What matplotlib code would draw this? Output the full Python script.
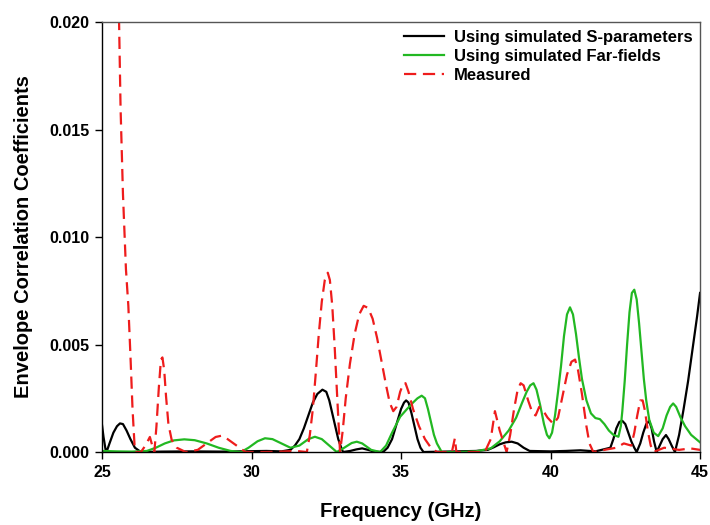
import matplotlib
matplotlib.use("Agg")
import matplotlib.pyplot as plt
from matplotlib.ticker import FormatStrFormatter

plt.rcParams['font.family'] = ['Liberation Sans', 'DejaVu Sans']
plt.rcParams['font.weight'] = 'bold'

# Using simulated S-parameters (black)
freq_s = [25.0, 25.05, 25.12, 25.15, 25.25, 25.38, 25.5, 25.6, 25.7, 25.82, 25.95, 26.1, 26.3,
          27.0, 28.0, 29.0, 30.0, 30.5, 31.0, 31.3, 31.45, 31.6, 31.75, 31.9, 32.05, 32.2,
          32.37, 32.5, 32.6, 32.7, 32.8, 32.9, 33.0, 33.06, 33.3, 33.5, 33.7, 33.9, 34.1,
          34.4, 34.55, 34.7, 34.85, 35.0, 35.1, 35.17, 35.25, 35.35, 35.45, 35.55, 35.65, 35.75,
          36.5, 37.5, 37.9, 38.1, 38.3, 38.5, 38.7, 38.9, 39.1, 39.3, 40.0, 40.5, 41.0, 41.5,
          42.0, 42.1, 42.2, 42.3, 42.4, 42.5, 42.6, 42.7, 42.8, 42.88, 43.0, 43.1, 43.2, 43.3,
          43.38, 43.46, 43.55, 43.65, 43.75, 43.86, 43.95, 44.05, 44.16, 44.3, 44.45, 44.6,
          44.75, 44.9, 45.0]
ecc_s = [0.00125, 0.0007, 0.0001, 0.0, 0.0004, 0.0009, 0.0012, 0.00133, 0.0013, 0.0010, 0.0006, 0.0002, 0.0,
         0.00002, 0.00003, 0.00002, 0.00004, 0.00005, 0.00003, 0.0001, 0.0003, 0.0006, 0.0011, 0.0017, 0.0023, 0.0027,
         0.0029, 0.0028, 0.0024, 0.0018, 0.0012, 0.0006, 0.0002, 0.0, 0.00005, 0.00012, 0.00017, 0.0001, 0.00002,
         0.0, 0.0002, 0.0006, 0.0013, 0.0020, 0.0023, 0.0024, 0.0023, 0.0018, 0.0012, 0.0006, 0.0002, 0.0,
         0.00002, 0.00005, 0.0001, 0.00022, 0.00036, 0.00045, 0.00048, 0.0004, 0.0002, 0.00005, 0.00003, 0.00005, 0.00008, 0.00003,
         0.0002, 0.0006, 0.0011, 0.0014, 0.00145, 0.0013, 0.0009, 0.0005, 0.0002, 0.0, 0.0004, 0.0009, 0.0013, 0.00144,
         0.0011, 0.0005, 0.0, 0.0003, 0.0006, 0.00079, 0.0006, 0.0003, 0.0, 0.0008, 0.0020, 0.0033,
         0.0048, 0.0063, 0.0074]

# Using simulated Far-fields (green)
freq_f = [25.0, 25.5, 26.0, 26.5, 26.8, 27.1, 27.4, 27.75, 28.1, 28.5, 28.9, 29.3, 29.65,
          29.9, 30.2, 30.45, 30.7, 31.0, 31.3, 31.6, 31.9, 32.12, 32.35, 32.6, 32.85,
          33.1, 33.35, 33.52, 33.7, 34.0, 34.3, 34.5, 34.7, 34.97, 35.2, 35.4, 35.55, 35.69,
          35.8, 35.9, 36.0, 36.1, 36.2, 36.36, 37.0, 37.5, 38.0, 38.3, 38.6, 38.85, 39.05,
          39.2, 39.32, 39.43, 39.53, 39.65, 39.78, 39.88, 39.96, 40.05, 40.15, 40.25, 40.35,
          40.45, 40.55, 40.65, 40.75, 40.85, 40.95, 41.05, 41.2, 41.35, 41.5, 41.65, 41.8,
          41.95, 42.1, 42.27, 42.35, 42.4, 42.48, 42.56, 42.64, 42.72, 42.8, 42.88, 42.96,
          43.04, 43.12, 43.2, 43.3, 43.45, 43.6, 43.75, 43.88, 44.0, 44.1, 44.2, 44.35,
          44.5, 44.7, 45.0]
ecc_f = [0.00005, 0.00003, 0.00002, 0.00005, 0.0002, 0.0004, 0.00054, 0.00059, 0.00055, 0.0004, 0.0002, 0.00005, 0.0,
         0.0002, 0.0005, 0.00064, 0.0006, 0.0004, 0.0002, 0.0003, 0.0006, 0.00071, 0.0006, 0.0003, 0.0,
         0.0002, 0.00042, 0.00048, 0.0004, 0.0001, 0.0, 0.0003, 0.0009, 0.00164, 0.0020, 0.0023, 0.0025, 0.00262,
         0.0025, 0.0020, 0.0014, 0.0008, 0.0004, 0.0, 0.0, 0.00003, 0.00017, 0.0005, 0.0010, 0.0016, 0.0023,
         0.0028, 0.0031, 0.0032, 0.0029, 0.0022, 0.0013, 0.0008, 0.00064, 0.0009, 0.0017, 0.0028, 0.0040,
         0.0054, 0.0064, 0.00673, 0.0064, 0.0055, 0.0044, 0.0034, 0.0024, 0.0018, 0.00158, 0.00153, 0.0013,
         0.0010, 0.0008, 0.00071, 0.0012, 0.0019, 0.0033, 0.0050, 0.0065, 0.0074, 0.00755, 0.0071, 0.0060,
         0.0047, 0.0034, 0.0024, 0.0015, 0.0009, 0.00074, 0.0011, 0.0017, 0.0021, 0.00226, 0.0021, 0.0016,
         0.0012, 0.0008, 0.00045]

# Measured (red dashed)
freq_m = [25.5, 25.57, 25.62, 25.7, 25.8, 25.88, 25.95, 26.02, 26.1, 26.3, 26.45, 26.6, 26.68,
          26.75, 26.82, 26.9, 26.97, 27.02, 27.08, 27.14, 27.22, 27.33, 27.5, 27.8, 28.2, 28.5,
          28.8, 29.0, 29.2, 29.5, 29.8, 30.5, 31.0, 31.5, 31.85, 31.95, 32.05, 32.15, 32.25,
          32.35, 32.45, 32.55, 32.62, 32.7, 32.78, 32.86, 32.93, 32.96, 33.05, 33.15, 33.29,
          33.45, 33.6, 33.75, 33.9, 34.05, 34.2, 34.35, 34.5, 34.62, 34.74, 34.85, 34.97, 35.08,
          35.15, 35.25, 35.4, 35.6, 35.8, 36.0, 36.2, 36.7, 36.8, 36.85, 37.8, 38.0, 38.14,
          38.3, 38.53, 38.65, 38.78, 38.9, 39.0, 39.1, 39.25, 39.4, 39.5, 39.62, 39.72, 39.9,
          40.1, 40.25, 40.4, 40.55, 40.7, 40.82, 40.92, 41.05, 41.2, 41.3, 41.43, 41.8, 42.2,
          42.45, 42.7, 42.8, 42.9, 43.0, 43.08, 43.16, 43.25, 43.35, 43.44, 43.8, 44.3, 44.67, 45.0]
ecc_m = [0.03, 0.0200, 0.0160, 0.0120, 0.0085, 0.0068, 0.0045, 0.0020, 0.0, 0.0, 0.0003, 0.0007, 0.0003,
         0.0, 0.0012, 0.0030, 0.0043, 0.0044, 0.0038, 0.0026, 0.0013, 0.00056, 0.0002, 0.0, 0.0001, 0.0004,
         0.0007, 0.00076, 0.0006, 0.0003, 0.0, 0.0, 0.00002, 0.00005, 0.0, 0.0008, 0.0020, 0.0037, 0.0055,
         0.0070, 0.0080, 0.00834, 0.0080, 0.0068, 0.0049, 0.0027, 0.0008, 0.0, 0.0010, 0.0025, 0.0041,
         0.0055, 0.0064, 0.0068, 0.0067, 0.0062, 0.0053, 0.0042, 0.0031, 0.0023, 0.0019, 0.0021, 0.0028, 0.0032,
         0.0032, 0.0028, 0.0020, 0.0012, 0.0006, 0.0002, 0.0, 0.0, 0.00064, 0.0, 0.0, 0.0006, 0.0019,
         0.0010, 0.0, 0.0008, 0.0020, 0.0029, 0.0032, 0.0031, 0.0024, 0.0018, 0.0017, 0.0021, 0.0020, 0.0016,
         0.0013, 0.0016, 0.0026, 0.0036, 0.0042, 0.0043, 0.0038, 0.0027, 0.0012, 0.0004, 0.0, 0.0001, 0.0002,
         0.0004, 0.0003, 0.0009, 0.0017, 0.0024, 0.0024, 0.0019, 0.0010, 0.0003, 0.0, 0.0002, 0.0001, 0.00017, 0.0001]

fig = plt.figure(figsize=(7.1, 5.25), dpi=100)
ax = fig.add_axes([0.1437, 0.139, 0.8423, 0.819])

ax.plot(freq_s, ecc_s, color='black', lw=1.6, label='Using simulated S-parameters')
ax.plot(freq_f, ecc_f, color='#22b822', lw=1.6, label='Using simulated Far-fields')
ax.plot(freq_m, ecc_m, color='#ee1c1c', lw=1.6, ls=(0, (5.5, 3)), label='Measured')

ax.set_xlim(25, 45)
ax.set_ylim(0, 0.020)
ax.set_xticks([25, 30, 35, 40, 45])
ax.set_yticks([0.0, 0.005, 0.010, 0.015, 0.020])
ax.yaxis.set_major_formatter(FormatStrFormatter('%.3f'))
ax.tick_params(direction='out', length=5, width=1, labelsize=11.5, pad=4)
for lab in ax.get_xticklabels() + ax.get_yticklabels():
    lab.set_fontweight('bold')
for sp in ax.spines.values():
    sp.set_linewidth(1.0)
ax.spines['top'].set_color('#555555')
ax.spines['right'].set_color('#555555')

ax.set_xlabel('Frequency (GHz)', fontsize=14.5, fontweight='bold', labelpad=16)
ax.set_ylabel('Envelope Correlation Coefficients', fontsize=14.5, fontweight='bold', labelpad=12)

leg = ax.legend(loc='upper right', frameon=False, fontsize=12, handlelength=2.4,
                handletextpad=0.6, labelspacing=0.25, borderaxespad=0.05,
                bbox_to_anchor=(1.0, 1.0))
for t in leg.get_texts():
    t.set_fontweight('bold')

fig.savefig('out.png', dpi=100)
